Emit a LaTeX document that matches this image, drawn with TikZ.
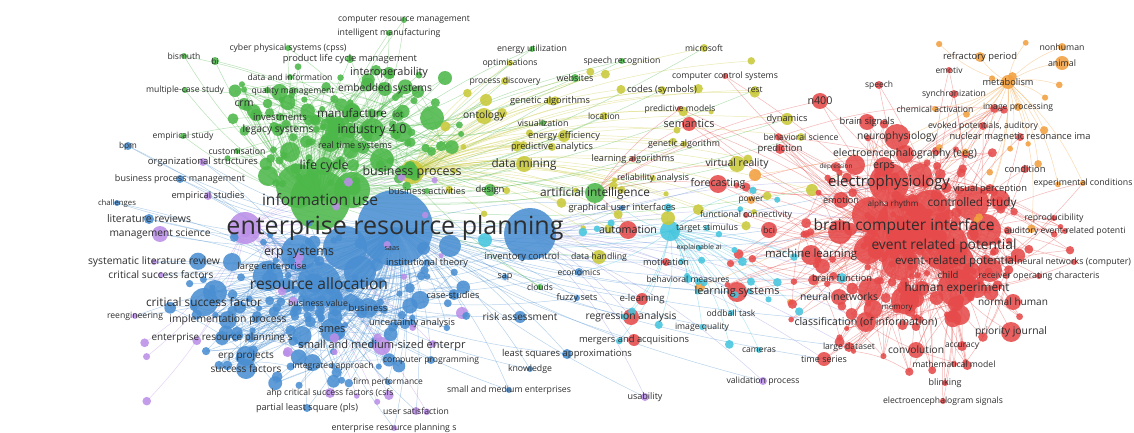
\documentclass[tikz,border=0pt]{standalone}
\usepackage{fontspec}
\setmainfont{Open Sans}
\usepackage{graphicx}
\definecolor{cR}{HTML}{E64A4A}
\definecolor{cG}{HTML}{4DB84A}
\definecolor{cB}{HTML}{4A8FD2}
\definecolor{cY}{HTML}{C9C93A}
\definecolor{cP}{HTML}{BB8FE8}
\definecolor{cC}{HTML}{45C6DE}
\definecolor{cO}{HTML}{F2A040}
\tikzset{
 bub/.style={fill opacity=0.88},
 lbl/.style={inner sep=0pt, text=black!82},
 lnk/.style={draw=#1, line width=0.5pt, draw opacity=0.4},
}
\newcommand\kw[7]{}
\newcommand\bubl[5]{}
% ---------------- data
\newcommand\bigbubbles{%
\bubl{b2}{530}{234}{26}{cB}
\bubl{b3}{345}{248}{22}{cB}
\bubl{b4}{268}{276}{15}{cB}
\bubl{b5}{360}{272}{16}{cB}
\bubl{b6}{450}{246}{11}{cB}
\bubl{b7}{215}{292}{12}{cB}
\bubl{b8}{232}{262}{9}{cB}
\bubl{b9}{420}{300}{9}{cB}
\bubl{g2}{298}{186}{22}{cG}
\bubl{g3}{352}{190}{18}{cG}
\bubl{g4}{290}{152}{10}{cG}
\bubl{g5}{330}{142}{10}{cG}
\bubl{g6}{402}{132}{10}{cG}
\bubl{g7}{432}{118}{12}{cG}
\bubl{g8}{445}{78}{7}{cG}
\bubl{g9}{382}{160}{12}{cG}
\bubl{g10}{268}{176}{10}{cG}
\bubl{rr2}{870}{215}{18}{cR}
\bubl{rr3}{930}{210}{20}{cR}
\bubl{rr4}{985}{230}{16}{cR}
\bubl{rr5}{900}{262}{18}{cR}
\bubl{rr6}{868}{250}{14}{cR}
\bubl{rr7}{990}{270}{12}{cR}
\bubl{rr8}{870}{290}{12}{cR}
\bubl{rr9}{905}{300}{14}{cR}
\bubl{rr10}{960}{315}{10}{cR}
\bubl{rr11}{855}{165}{10}{cR}
\bubl{rr12}{920}{175}{12}{cR}
\bubl{rr13}{1000}{200}{10}{cR}
\bubl{rr14}{840}{232}{12}{cR}
\bubl{ph}{245}{228}{16}{cP}
\bubl{p2}{288}{352}{5}{cP}
\bubl{p3}{462}{313}{6}{cP}
\bubl{ch}{670}{231}{10}{cC}
\bubl{c2}{485}{240}{7}{cC}
\bubl{y2}{486}{100}{6}{cY}
\bubl{y3}{502}{113}{5}{cY}
\bubl{y4}{668}{218}{7}{cY}
\bubl{y5}{812}{190}{6}{cY}
\bubl{o2}{755}{175}{6}{cO}
\bubl{o3}{700}{287}{5}{cO}
\bubl{o4}{790}{302}{3}{cO}}
\newcommand\termlist{%
\kw{erp}{395}{228}{38}{cB}{337}{enterprise resource planning}
\kw{infouse}{320}{200}{30}{cG}{116}{information use}
\kw{cresm}{404}{20}{3}{cG}{132}{computer resource management}
\kw{intman}{389}{33}{3}{cG}{103}{intelligent manufacturing}
\kw{bism}{184}{56}{3}{cG}{33}{bismuth}
\kw{bi}{215}{61}{4}{cG}{7}{bi}
\kw{cps}{288}{48}{3}{cG}{117}{cyber physical systems (cpss)}
\kw{plcm}{350}{59}{4}{cG}{134}{product life cycle management}
\kw{datainf}{290}{77}{3}{cG}{85}{data and information}
\kw{interop}{389}{73}{6}{cG}{78}{interoperability}
\kw{mcs}{185}{90}{3}{cG}{78}{multiple-case study}
\kw{qm}{293}{91}{4}{cG}{83}{quality management}
\kw{embsys}{385}{89}{7}{cG}{94}{embedded systems}
\kw{crm}{244}{104}{6}{cG}{19}{crm}
\kw{invest}{280}{117}{4}{cG}{54}{investments}
\kw{manuf}{352}{113}{9}{cG}{70}{manufacture}
\kw{iot}{398}{115}{6}{cG}{10}{iot}
\kw{legacy}{278}{130}{6}{cG}{71}{legacy systems}
\kw{ind40}{372}{130}{12}{cG}{69}{industry 4.0}
\kw{empstudy}{183}{136}{3}{cG}{61}{empirical study}
\kw{rts}{355}{146}{6}{cG}{74}{real time systems}
\kw{custom}{237}{151}{3}{cG}{57}{customisation}
\kw{lifecyc}{324}{166}{9}{cG}{49}{life cycle}
\kw{enutil}{532}{49}{3}{cG}{70}{energy utilization}
\kw{optim}{510}{63}{3}{cY}{55}{optimisations}
\kw{speechrec}{622}{61}{3}{cG}{77}{speech recognition}
\kw{procdisc}{505}{81}{4}{cY}{71}{process discovery}
\kw{websites}{575}{78}{4}{cG}{37}{websites}
\kw{ontology}{484}{116}{8}{cY}{42}{ontology}
\kw{genalgs}{550}{101}{4}{cY}{80}{genetic algorithms}
\kw{visual}{543}{123}{3}{cG}{51}{visualization}
\kw{location}{604}{116}{4}{cY}{32}{location}
\kw{eneff}{564}{136}{6}{cY}{72}{energy efficiency}
\kw{predan}{552}{147}{4}{cY}{82}{predictive analytics}
\kw{codes}{662}{90}{4}{cY}{70}{codes (symbols)}
\kw{msoft}{704}{48}{4}{cY}{38}{microsoft}
\kw{ccs}{725}{76}{3}{cR}{106}{computer control systems}
\kw{rest}{755}{90}{4}{cY}{15}{rest}
\kw{predmod}{680}{109}{3}{cR}{71}{predictive models}
\kw{semantics}{689}{124}{7}{cR}{51}{semantics}
\kw{dynamics}{787}{119}{6}{cY}{41}{dynamics}
\kw{behsci}{801}{137}{4}{cY}{75}{behavioral science}
\kw{genalg}{684}{144}{3}{cY}{72}{genetic algorithm}
\kw{n400}{820}{101}{8}{cR}{25}{n400}
\kw{busproc}{412}{172}{12}{cY}{99}{business process}
\kw{busact}{427}{191}{3}{cG}{77}{business activities}
\kw{design}{490}{190}{6}{cG}{29}{design}
\kw{datamin}{524}{164}{8}{cY}{65}{data mining}
\kw{ai}{595}{193}{10}{cG}{110}{artificial intelligence}
\kw{learnalg}{633}{159}{3}{cR}{83}{learning algorithms}
\kw{relan}{653}{178}{3}{cY}{72}{reliability analysis}
\kw{gui}{622}{208}{3}{cB}{107}{graphical user interfaces}
\kw{autom}{628}{230}{9}{cR}{58}{automation}
\kw{vr}{737}{164}{8}{cY}{63}{virtual reality}
\kw{forecast}{718}{184}{9}{cR}{55}{forecasting}
\kw{power}{751}{200}{4}{cO}{25}{power}
\kw{funccon}{746}{215}{3}{cR}{92}{functional connectivity}
\kw{target}{707}{228}{3}{cC}{62}{target stimulus}
\kw{explai}{699}{248}{3}{cC}{45}{explainable ai}
\kw{motiv}{666}{262}{4}{cR}{46}{motivation}
\kw{behmeas}{688}{279}{4}{cC}{83}{behavioral measures}
\kw{bci}{769}{230}{8}{cR}{12}{bci}
\kw{ml}{811}{255}{10}{cR}{92}{machine learning}
\kw{brainf}{842}{278}{5}{cC}{60}{brain function}
\kw{learnsys}{737}{292}{10}{cR}{85}{learning systems}
\kw{nn}{839}{297}{8}{cR}{78}{neural networks}
\kw{oddball}{731}{313}{3}{cC}{49}{oddball task}
\kw{imgq}{702}{327}{3}{cC}{54}{image quality}
\kw{classif}{866}{322}{10}{cR}{143}{classification (of information)}
\kw{largeds}{849}{347}{5}{cR}{52}{large dataset}
\kw{cameras}{759}{350}{3}{cC}{34}{cameras}
\kw{timeser}{824}{359}{7}{cR}{46}{time series}
\kw{valproc}{763}{381}{4}{cP}{73}{validation process}
\kw{regan}{631}{317}{8}{cR}{91}{regression analysis}
\kw{mergers}{634}{340}{6}{cR}{110}{mergers and acquisitions}
\kw{elearn}{642}{299}{6}{cR}{45}{e-learning}
\kw{fuzzy}{577}{298}{3}{cB}{41}{fuzzy sets}
\kw{usab}{645}{397}{4}{cP}{35}{usability}
\kw{lsa}{567}{354}{5}{cB}{130}{least squares approximations}
\kw{knowl}{530}{369}{3}{cB}{44}{knowledge}
\kw{smeent}{509}{390}{3}{cB}{124}{small and medium enterprises}
\kw{usersat}{416}{411}{4}{cP}{66}{user satisfaction}
\kw{risk}{520}{317}{6}{cB}{75}{risk assessment}
\kw{econ}{579}{272}{4}{cB}{43}{economics}
\kw{sap}{505}{277}{3}{cB}{15}{sap}
\kw{clouds}{540}{287}{3}{cG}{26}{clouds}
\kw{invctl}{522}{257}{4}{cB}{75}{inventory control}
\kw{datah}{599}{257}{7}{cY}{56}{data handling}
\kw{saas}{392}{249}{3}{cB}{15}{saas}
\kw{inst}{427}{263}{4}{cB}{82}{institutional theory}
\kw{cases}{453}{295}{4}{cB}{53}{case-studies}
\kw{uncert}{412}{323}{4}{cB}{86}{uncertainty analysis}
\kw{comprog}{431}{360}{4}{cB}{96}{computer programming}
\kw{smmed}{382}{346}{9}{cP}{167}{small and medium-sized enterpr}
\kw{firmperf}{388}{382}{3}{cB}{70}{firm performance}
\kw{integ}{333}{366}{3}{cB}{81}{integrated approach}
\kw{ahp}{330}{393}{5}{cP}{127}{ahp critical success factors (csfs}
\kw{pls}{307}{408}{4}{cB}{102}{partial least square (pls)}
\kw{erpsb}{394}{428}{3}{cP}{125}{enterprise resource planning s}
\kw{succ}{246}{369}{10}{cB}{71}{success factors}
\kw{erpproj}{246}{356}{10}{cB}{56}{erp projects}
\kw{erpsa}{222}{338}{7}{cB}{141}{enterprise resource planning s}
\kw{impl}{228}{320}{9}{cB}{117}{implementation process}
\kw{reeng}{135}{316}{3}{cP}{56}{reengineering}
\kw{csf}{204}{302}{14}{cB}{116}{critical success factor}
\kw{busval}{318}{303}{4}{cB}{60}{business value}
\kw{business}{368}{308}{10}{cB}{39}{business}
\kw{smes}{332}{330}{12}{cB}{27}{smes}
\kw{resalloc}{319}{284}{22}{cB}{138}{resource allocation}
\kw{largeent}{272}{267}{4}{cB}{69}{large enterprise}
\kw{erpsys}{299}{253}{18}{cB}{70}{erp systems}
\kw{csfs}{161}{275}{3}{cP}{105}{critical success factors}
\kw{slr}{154}{262}{3}{cP}{132}{systematic literature review}
\kw{mgmtsci}{160}{234}{8}{cP}{101}{management science}
\kw{litrev}{149}{219}{5}{cB}{84}{literature reviews}
\kw{chall}{117}{203}{3}{cB}{38}{challenges}
\kw{empstudies}{208}{196}{4}{cP}{73}{empirical studies}
\kw{bpm}{180}{179}{4}{cB}{130}{business process management}
\kw{orgstr}{203}{162}{4}{cP}{110}{organizational structures}
\kw{bpmab}{128}{146}{4}{cB}{18}{bpm}
\kw{bcint}{904}{226}{28}{cR}{181}{brain computer interface}
\kw{ephys}{889}{183}{20}{cR}{122}{electrophysiology}
\kw{erp1}{944}{246}{24}{cR}{145}{event related potential}
\kw{erp2}{956}{262}{18}{cR}{122}{event-related potential}
\kw{humexp}{957}{288}{19}{cR}{105}{human experiment}
\kw{ctrl}{972}{203}{17}{cR}{89}{controlled study}
\kw{eeg}{905}{154}{9}{cR}{144}{electroencephalography (eeg)}
\kw{depr}{836}{167}{5}{cR}{33}{depression}
\kw{erpsr}{884}{167}{10}{cR}{22}{erps}
\kw{emotion}{841}{200}{8}{cR}{36}{emotion}
\kw{alpha}{893}{204}{5}{cR}{51}{alpha rhythm}
\kw{visperc}{990}{189}{5}{cR}{74}{visual perception}
\kw{cond}{1025}{169}{4}{cR}{41}{condition}
\kw{expcond}{1083}{183}{3}{cO}{99}{experimental conditions}
\kw{repro}{1054}{218}{3}{cR}{59}{reproducibility}
\kw{audev}{1065}{231}{3}{cR}{121}{auditory event-related potenti}
\kw{nncomp}{1074}{262}{3}{cR}{114}{neural networks (computer)}
\kw{child}{948}{275}{4}{cR}{21}{child}
\kw{roc}{1039}{276}{3}{cR}{121}{receiver operating characteris}
\kw{normhum}{1013}{302}{8}{cR}{70}{normal human}
\kw{memory}{897}{308}{5}{cR}{31}{memory}
\kw{prio}{1011}{332}{10}{cR}{72}{priority journal}
\kw{accur}{962}{346}{5}{cR}{34}{accuracy}
\kw{convol}{916}{350}{8}{cR}{56}{convolution}
\kw{mathmod}{954}{364}{3}{cR}{83}{mathematical model}
\kw{blink}{945}{383}{3}{cR}{33}{blinking}
\kw{eegsig}{943}{401}{3}{cR}{120}{electroencephalogram signals}
\kw{brsig}{867}{122}{8}{cR}{55}{brain signals}
\kw{neuroph}{897}{137}{13}{cR}{80}{neurophysiology}
\kw{nmr}{1020}{137}{4}{cR}{141}{nuclear magnetic resonance ima}
\kw{evoked}{983}{126}{4}{cR}{110}{evoked potentials, auditory}
\kw{speech}{879}{85}{4}{cR}{28}{speech}
\kw{predict}{780}{149}{5}{cR}{45}{prediction}
\kw{sync}{954}{94}{4}{cR}{64}{synchronization}
\kw{chem}{935}{109}{3}{cO}{77}{chemical activation}
\kw{imgproc}{1018}{107}{4}{cO}{70}{image processing}
\kw{metab}{1008}{82}{7}{cO}{51}{metabolism}
\kw{emotiv}{949}{70}{3}{cR}{27}{emotiv}
\kw{refr}{980}{57}{5}{cO}{74}{refractory period}
\kw{animal}{1062}{63}{7}{cO}{28}{animal}
\kw{nonhum}{1062}{47}{4}{cO}{45}{nonhuman}}
\newcommand\fillers{%
\pgfmathsetseed{7}%
\foreach \i in {1,...,160}{
 \pgfmathsetmacro\ang{360*rnd}\pgfmathsetmacro\rr{rnd}
 \pgfmathsetmacro\px{915+115*\rr*cos(\ang)}\pgfmathsetmacro\py{238+95*\rr*sin(\ang)}
 \pgfmathsetmacro\rad{3+7*rnd*rnd}
 \bubl{r\i}{\px}{\py}{\rad}{cR}}
\foreach \i in {161,...,200}{
 \pgfmathsetmacro\ang{360*rnd}\pgfmathsetmacro\rr{0.5+0.5*rnd}
 \pgfmathsetmacro\px{900+190*\rr*cos(\ang)}\pgfmathsetmacro\py{235+150*\rr*sin(\ang)}
 \pgfmathsetmacro\rad{2.5+2.5*rnd}
 \bubl{r\i}{\px}{\py}{\rad}{cR}}
\foreach \i in {1,...,120}{
 \pgfmathsetmacro\ang{360*rnd}\pgfmathsetmacro\rr{rnd}
 \pgfmathsetmacro\px{340+125*\rr*cos(\ang)}\pgfmathsetmacro\py{128+72*\rr*sin(\ang)}
 \pgfmathsetmacro\rad{3+6.5*rnd*rnd}
 \bubl{g\i x}{\px}{\py}{\rad}{cG}}
\foreach \i in {1,...,140}{
 \pgfmathsetmacro\ang{360*rnd}\pgfmathsetmacro\rr{rnd}
 \pgfmathsetmacro\px{320+150*\rr*cos(\ang)}\pgfmathsetmacro\py{305+85*\rr*sin(\ang)}
 \pgfmathsetmacro\rad{3+7*rnd*rnd}
 \bubl{b\i x}{\px}{\py}{\rad}{cB}}
\foreach \i in {1,...,35}{
 \pgfmathsetmacro\px{430+350*rnd}\pgfmathsetmacro\py{60+170*rnd}
 \pgfmathsetmacro\rad{2.5+3*rnd}
 \bubl{y\i x}{\px}{\py}{\rad}{cY}}
\foreach \i in {1,...,28}{
 \pgfmathsetmacro\px{580+230*rnd}\pgfmathsetmacro\py{190+160*rnd}
 \pgfmathsetmacro\rad{2.5+2*rnd}
 \bubl{c\i x}{\px}{\py}{\rad}{cC}}
\foreach \i in {1,...,28}{
 \pgfmathsetmacro\px{140+330*rnd}\pgfmathsetmacro\py{160+255*rnd}
 \pgfmathsetmacro\rad{2.5+2.5*rnd}
 \bubl{p\i x}{\px}{\py}{\rad}{cP}}
\foreach \i in {1,...,18}{
 \pgfmathsetmacro\px{930+150*rnd}\pgfmathsetmacro\py{40+190*rnd}
 \pgfmathsetmacro\rad{2.5+2*rnd}
 \bubl{o\i x}{\px}{\py}{\rad}{cO}}}
\begin{document}
\begin{tikzpicture}[x=1pt,y=-1pt]
\fill[white] (0,0) rectangle (1134,433);
\useasboundingbox (0,0) rectangle (1134,433);
% pass 1: positions only
\renewcommand\bubl[5]{\coordinate (#1) at (#2,#3);}
\renewcommand\kw[7]{\coordinate (#1) at (#2,#3);}
\bigbubbles
\termlist
\fillers
% pass 2: connectors
\foreach \i in {1,...,160}{\draw[lnk=cR] (bcint) to[bend left=14] (r\i);}
\foreach \i in {161,...,200}{\draw[lnk=cR] (ephys) to[bend left=14] (r\i);}
\foreach \i in {1,...,120}{\draw[lnk=cG] (infouse) to[bend left=14] (g\i x);}
\foreach \i in {1,...,140}{\draw[lnk=cB] (erp) to[bend left=14] (b\i x);}
\foreach \i in {1,...,35}{\draw[lnk=cY] (busproc) to[bend left=14] (y\i x);}
\foreach \i in {1,...,28}{\draw[lnk=cC] (ch) to[bend left=14] (c\i x);}
\foreach \i in {1,...,28}{\draw[lnk=cP] (ph) to[bend left=14] (p\i x);}
\foreach \i in {1,...,18}{\draw[lnk=cO] (metab) to[bend left=14] (o\i x);}
\pgfmathsetseed{11}
\foreach \i in {1,...,260}{
 \pgfmathtruncatemacro\a{1+199*rnd}\pgfmathtruncatemacro\b{mod(\a+int(1+60*rnd),200)+1}
 \draw[lnk=cR] (r\a) to[bend left=12] (r\b);}
\foreach \i in {1,...,150}{
 \pgfmathtruncatemacro\a{1+119*rnd}\pgfmathtruncatemacro\b{mod(\a+int(1+50*rnd),120)+1}
 \draw[lnk=cG] (g\a x) to[bend left=12] (g\b x);}
\foreach \i in {1,...,150}{
 \pgfmathtruncatemacro\a{1+139*rnd}\pgfmathtruncatemacro\b{mod(\a+int(1+50*rnd),140)+1}
 \draw[lnk=cB] (b\a x) to[bend left=12] (b\b x);}
\foreach \n in {bcint,ephys,erp1,erp2,humexp,ctrl,eeg,depr,erpsr,emotion,alpha,visperc,cond,expcond,repro,audev,nncomp,child,roc,normhum,memory,prio,accur,convol,mathmod,blink,eegsig,brsig,neuroph,nmr,evoked,speech,predict,sync,emotiv,n400,ml,nn,classif,largeds,timeser,bci,funccon,learnsys,forecast,semantics,ccs,predmod}
 {\draw[lnk=cR] (erp1) to[bend left=12] (\n); \draw[lnk=cR] (humexp) to[bend right=10] (\n);}
\foreach \n in {cresm,intman,bism,bi,cps,plcm,datainf,interop,mcs,qm,embsys,crm,invest,manuf,iot,legacy,ind40,empstudy,rts,custom,lifecyc,enutil,speechrec,websites,visual,busact,design,ai,clouds,g2,g3,g4,g5,g6,g7,g8,g9,g10}
 {\draw[lnk=cG] (infouse) to[bend left=12] (\n); \draw[lnk=cG] (ind40) to[bend right=10] (\n);}
\foreach \n in {optim,procdisc,ontology,genalgs,location,eneff,predan,codes,msoft,rest,dynamics,behsci,genalg,datamin,relan,vr,datah,y2,y3,y4,y5}
 {\draw[lnk=cY] (busproc) to[bend left=12] (\n); \draw[lnk=cG] (infouse) to[bend right=8] (\n);}
\foreach \n in {bpmab,chall,litrev,mgmtsci,slr,csfs,reeng,orgstr,bpm,empstudies,succ,erpproj,erpsa,impl,csf,busval,business,smes,resalloc,largeent,erpsys,saas,inst,cases,uncert,comprog,smmed,firmperf,integ,ahp,pls,erpsb,usersat,risk,econ,sap,invctl,fuzzy,lsa,knowl,smeent,gui,b2,b3,b4,b5,b6,b7,b8,b9}
 {\draw[lnk=cB] (erp) to[bend left=12] (\n); \draw[lnk=cB] (resalloc) to[bend right=10] (\n);}
\foreach \n in {ml,learnsys,regan,classif,timeser,nn,bci,forecast,autom,elearn,mergers,motiv,usab,valproc,brainf,largeds,ephys,bcint}
 {\draw[lnk=cP!60!cB] (b2) to[bend left=10] (\n); \draw[lnk=cB] (erp) to[bend right=8] (\n);}
\foreach \n in {target,explai,behmeas,brainf,oddball,imgq,cameras,c2,autom,gui,econ}
 {\draw[lnk=cC] (ch) to[bend left=12] (\n);}
\foreach \n in {refr,animal,nonhum,chem,imgproc,power,expcond,o2,o3,o4}
 {\draw[lnk=cO] (metab) to[bend left=12] (\n);}
\foreach \n in {semantics,predmod,learnalg,vr,forecast,autom,n400,dynamics}
 {\draw[lnk=cR] (ai) to[bend left=10] (\n);}
% pass 3: bubbles
\renewcommand\bubl[5]{\fill[bub,#5] (#2,#3) circle (#4);}
\renewcommand\kw[7]{\fill[bub,#5] (#2,#3) circle (#4);}
\bigbubbles
\termlist
\fillers
% pass 4: labels
\renewcommand\kw[7]{\node[lbl] (#1-l) at (#1) {\resizebox{#6pt}{!}{#7}};}
\termlist
\end{tikzpicture}
\end{document}
